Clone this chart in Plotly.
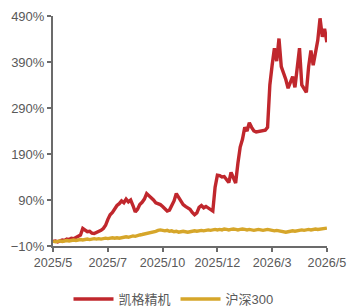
import plotly.graph_objects as go

tick_labels = ["2025/5", "2025/7", "2025/10", "2025/12", "2026/3", "2026/5"]
tick_index = [0, 24, 48, 72, 96, 120]

kaige = [0, 1, -1, 2, 3, 2, 5, 4, 7, 6, 9, 12, 14, 28, 24, 21, 22, 18, 17, 19,
         22, 24, 28, 35, 48, 58, 63, 72, 78, 82, 88, 84, 92, 86, 90, 78, 64, 70, 80, 85,
         92, 104, 100, 95, 90, 84, 82, 80, 76, 72, 66, 68, 78, 88, 104, 96, 86, 80, 76, 72,
         70, 63, 58, 62, 74, 78, 73, 76, 72, 70, 66, 118, 144, 143, 140, 141, 135, 128, 150, 140,
         127, 170, 205, 222, 248, 240, 258, 248, 240, 238, 239, 240, 241, 242, 248, 340, 383, 420, 392, 441,
         380, 368, 352, 333, 345, 358, 335, 375, 420, 340, 330, 324, 380, 415, 383, 410, 437, 485, 445, 462,
         433]

hs300 = [0, -1, 0, 1, 0, 1, 2, 1, 2, 3, 2, 3, 4, 3, 4, 5, 4, 5, 6, 5,
         6, 5, 6, 7, 6, 7, 8, 7, 8, 7, 8, 9, 10, 9, 11, 12, 11, 13, 14, 15,
         16, 17, 18, 19, 20, 22, 24, 25, 24, 23, 24, 22, 23, 21, 22, 20, 21, 22, 21, 20,
         21, 22, 23, 22, 23, 24, 23, 24, 25, 24, 25, 26, 25, 26, 25, 27, 26, 25, 26, 27,
         26, 25, 26, 27, 26, 25, 26, 25, 24, 25, 26, 25, 24, 25, 26, 25, 24, 23, 24, 23,
         22, 21, 20, 21, 22, 23, 22, 23, 24, 25, 24, 25, 26, 25, 26, 27, 26, 27, 28, 29,
         29]

x = list(range(len(kaige)))

fig = go.Figure()
fig.add_trace(go.Scatter(x=x, y=kaige, mode="lines", name="凯格精机",
                         line=dict(color="#c0272d", width=3.4)))
fig.add_trace(go.Scatter(x=x, y=hs300, mode="lines", name="沪深300",
                         line=dict(color="#d6a62a", width=3.4)))

axis_color = "#6b6b6b"
font_color = "#595959"
fam = "Liberation Sans, Arial, Noto Sans CJK SC"
fig.update_layout(
    width=347, height=307,
    margin=dict(l=53, r=20, t=16, b=61, autoexpand=False),
    paper_bgcolor="white", plot_bgcolor="white",
    font=dict(family=fam, size=13, color=font_color),
    showlegend=True,
    hovermode=False,
    legend=dict(orientation="h", x=0.5, xanchor="center", xref="container",
                y=0.026, yanchor="middle", yref="container",
                font=dict(family=fam, size=13, color=font_color), itemwidth=40,
                bgcolor="rgba(0,0,0,0)"),
    xaxis=dict(range=[-0.05, 120.05], tickmode="array", tickvals=tick_index, ticktext=tick_labels,
               showgrid=False, zeroline=False, showline=True, linecolor=axis_color, linewidth=2,
               ticks="outside", ticklen=4, tickwidth=2, tickcolor=axis_color,
               ticklabeloverflow="allow",
               tickfont=dict(family=fam, size=12.6, color=font_color)),
    yaxis=dict(range=[-10, 490], tickmode="array", tickvals=[-10, 90, 190, 290, 390, 490],
               ticktext=["−10%", "90%", "190%", "290%", "390%", "490%"],
               showgrid=False, zeroline=False, showline=True, linecolor=axis_color, linewidth=2,
               ticks="outside", ticklen=4, tickwidth=2, tickcolor=axis_color,
               tickfont=dict(family=fam, size=13, color=font_color)),
)

fig.write_html("out.html", config={"displayModeBar": False},
               post_script="document.body.style.margin='0';")
